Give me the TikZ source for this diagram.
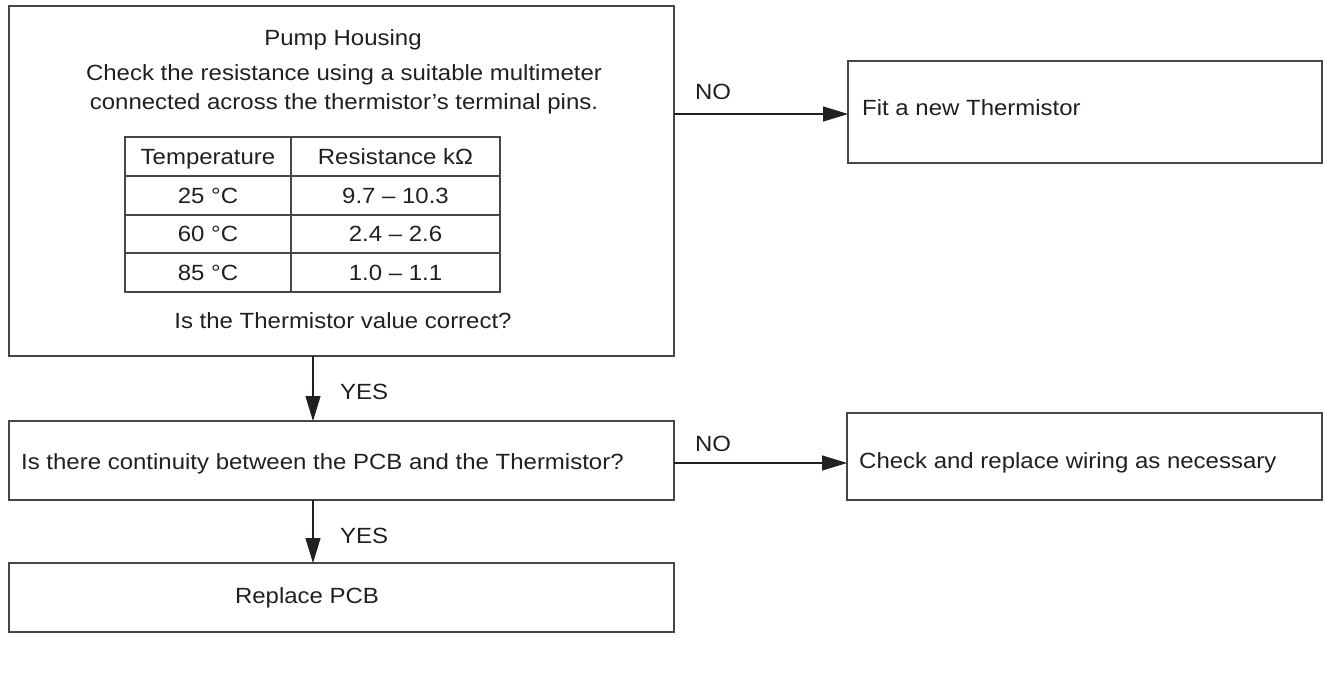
\documentclass[tikz,border=0pt]{standalone}
\usepackage{fontspec}
\setmainfont{Liberation Sans}[FakeStretch=1.09]
\usetikzlibrary{arrows.meta}
\definecolor{ink}{RGB}{35,31,32}
\definecolor{edge}{RGB}{70,70,70}
\begin{document}
\begin{tikzpicture}[x=1pt,y=-1pt,
  every node/.style={font=\fontsize{22}{26}\selectfont, text=ink},
  box/.style={draw=edge, line width=1.5pt, rectangle, inner sep=0pt, outer sep=0pt, anchor=north west},
  txt/.style={inner sep=0pt, text height=15.8pt, text depth=0pt},
  tline/.style={draw=edge, line width=1.5pt},
  arr/.style={draw=ink, line width=1.2pt, -{Triangle[length=25pt,width=15pt]}},
  lbl/.style={inner sep=0pt, text height=15.8pt, text depth=0pt}]
\useasboundingbox (0,0) rectangle (1326,674);
% boxes
\node[box, minimum width=665pt, minimum height=350pt] (b1) at (9,6) {};
\node[box, minimum width=474pt, minimum height=102pt] (b2) at (848,61) {};
\node[box, minimum width=665pt, minimum height=79pt] (b3) at (9,421) {};
\node[box, minimum width=475pt, minimum height=87pt] (b4) at (847,413) {};
\node[box, minimum width=665pt, minimum height=69pt] (b5) at (9,563) {};
% box 1 texts
\node[txt] (t1) at (343,38) {Pump Housing};
\node[txt] (t2) at (344,73) {Check the resistance using a suitable multimeter};
\node[txt] (t3) at (344,102) {connected across the thermistor’s terminal pins.};
\node[txt] (t4) at (343,321) {Is the Thermistor value correct?};
% table
\draw[tline] (125,137) rectangle (500,292);
\draw[tline] (291,137) -- (291,292);
\draw[tline] (125,176) -- (500,176);
\draw[tline] (125,215) -- (500,215);
\draw[tline] (125,253) -- (500,253);
\node[txt] (h1) at (208,156.5) {Temperature};
\node[txt] (h2) at (395.5,156.5) {Resistance kΩ};
\node[txt] (r1a) at (208,195.5) {25 °C};
\node[txt] (r1b) at (395.5,195.5) {9.7 – 10.3};
\node[txt] (r2a) at (208,234) {60 °C};
\node[txt] (r2b) at (395.5,234) {2.4 – 2.6};
\node[txt] (r3a) at (208,272.5) {85 °C};
\node[txt] (r3b) at (395.5,272.5) {1.0 – 1.1};
% other box texts
\node[txt, anchor=west] (t5) at (862,108) {Fit a new Thermistor};
\node[txt, anchor=west] (t6) at (21,462) {Is there continuity between the PCB and the Thermistor?};
\node[txt, anchor=west] (t7) at (859,461) {Check and replace wiring as necessary};
\node[txt] (t8) at (307,596) {Replace PCB};
% connector coordinates
\coordinate (ax) at (313,0);
\coordinate (ay1) at (0,114);
\coordinate (ay2) at (0,463);
% connectors
\draw[arr] (b1.east |- ay1) -- (b2.west |- ay1);
\draw[arr] (b3.east |- ay2) -- (b4.west |- ay2);
\draw[arr] (b1.south -| ax) -- (b3.north -| ax);
\draw[arr] (b3.south -| ax) -- (b5.north -| ax);
% labels
\node[lbl] (no1) at (713,92) {NO};
\node[lbl] (no2) at (713,444) {NO};
\node[lbl] (yes1) at (364,392) {YES};
\node[lbl] (yes2) at (364,536) {YES};
\end{tikzpicture}
\end{document}
